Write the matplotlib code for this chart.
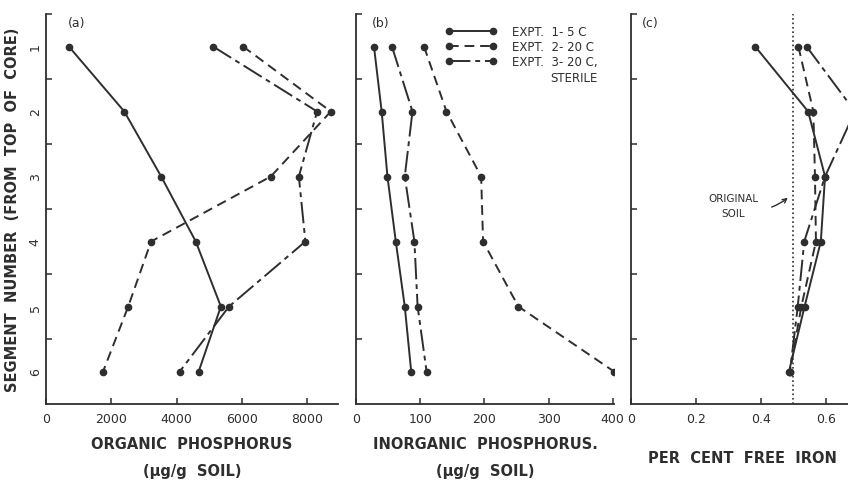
import matplotlib
matplotlib.use("Agg")
import matplotlib.pyplot as plt

segments = [1, 2, 3, 4, 5, 6]

org_p_expt1 = [700, 2400, 3530, 4590, 5360, 4680]
org_p_expt2 = [6040, 8730, 6890, 3220, 2520, 1750]
org_p_expt3 = [5120, 8310, 7750, 7950, 5610, 4100]

inorg_p_expt1 = [28, 40, 49, 62, 76, 86]
inorg_p_expt2 = [106, 141, 195, 198, 253, 402]
inorg_p_expt3 = [56, 88, 76, 91, 96, 110]

iron_expt1 = [0.383, 0.546, 0.598, 0.585, 0.535, 0.487]
iron_expt2 = [0.516, 0.562, 0.567, 0.570, 0.525, 0.490]
iron_expt3 = [0.541, 0.690, 0.598, 0.534, 0.514, 0.490]

legend_labels = ['EXPT.  1- 5 C', 'EXPT.  2- 20 C', 'EXPT.  3- 20 C,']

ink = '#2e2e2e'
W, H = 848, 481

plt.rcParams['font.family'] = 'DejaVu Sans'
plt.rcParams['text.color'] = ink
plt.rcParams['axes.labelcolor'] = ink
plt.rcParams['xtick.color'] = ink
plt.rcParams['ytick.color'] = ink

fig = plt.figure(figsize=(8.48, 4.81), dpi=100)
fig.patch.set_facecolor('white')


def make_ax(left_px, right_px, xmax):
    ax = fig.add_axes([left_px / W, 1 - 405 / H, (right_px - left_px) / W, 390 / H])
    ax.set_xlim(0, xmax)
    ax.set_ylim(6.5, 0.5)
    for s in ['top', 'right']:
        ax.spines[s].set_visible(False)
    for s in ['left', 'bottom']:
        ax.spines[s].set_color(ink)
        ax.spines[s].set_linewidth(1.3)
    ax.set_yticks(segments)
    ax.set_yticks([0.5, 1.5, 2.5, 3.5, 4.5, 5.5], minor=True)
    ax.tick_params(axis='y', which='major', length=0, pad=3, labelsize=9)
    ax.tick_params(axis='y', which='minor', direction='in', length=4, width=1.1)
    ax.tick_params(axis='x', which='major', direction='in', length=4, width=1.1,
                   pad=6, labelsize=9)
    return ax


dash_style = (0, (5, 3))
dashdot_style = (0, (11, 2.5, 2.5, 2.5))


def draw_series(ax, e1, e2, e3):
    kw = dict(color=ink, marker='o', markersize=4.5, linewidth=1.4)
    ax.plot(e1, segments, linestyle='-', label=legend_labels[0], **kw)
    ax.plot(e2, segments, linestyle=dash_style, label=legend_labels[1], **kw)
    ax.plot(e3, segments, linestyle=dashdot_style, label=legend_labels[2], **kw)


# (a) organic phosphorus
ax_a = make_ax(46, 338, 8950)
draw_series(ax_a, org_p_expt1, org_p_expt2, org_p_expt3)
ax_a.set_xticks([0, 2000, 4000, 6000, 8000])
ax_a.set_yticklabels([str(s) for s in segments], rotation=90, va='center')
ax_a.set_xlabel('ORGANIC  PHOSPHORUS\n(\u00b5g/g  SOIL)', fontsize=10.5,
                fontweight='bold', linespacing=2.0, labelpad=8)
ax_a.set_ylabel('SEGMENT  NUMBER  (FROM  TOP  OF  CORE)', fontsize=10.5,
                fontweight='bold', labelpad=6)
ax_a.text(0.075, 0.995, '(a)', transform=ax_a.transAxes, va='top', fontsize=9)

# (b) inorganic phosphorus
ax_b = make_ax(356, 614, 402)
draw_series(ax_b, inorg_p_expt1, inorg_p_expt2, inorg_p_expt3)
ax_b.set_xticks([0, 100, 200, 300, 400])
ax_b.set_yticklabels([])
ax_b.set_xlabel('INORGANIC  PHOSPHORUS.\n(\u00b5g/g  SOIL)', fontsize=10.5,
                fontweight='bold', linespacing=2.0, labelpad=8)
ax_b.text(0.062, 0.995, '(b)', transform=ax_b.transAxes, va='top', fontsize=9)
leg = ax_b.legend(loc='upper left', bbox_to_anchor=(0.33, 0.983), frameon=False,
                  numpoints=2, handlelength=4.3, handletextpad=1.3,
                  labelspacing=0.17, fontsize=8.5, borderaxespad=0)
# second line of the third label, right-aligned under it (drawn after the legend)
ax_b.annotate('STERILE', xy=(1, 0), xycoords=leg.get_texts()[2],
              xytext=(0, -2), textcoords='offset points',
              ha='right', va='top', fontsize=8.5, zorder=6)

# (c) free iron
ax_c = make_ax(630.7, 630.7 + 0.8 * 325, 0.8)
draw_series(ax_c, iron_expt1, iron_expt2, iron_expt3)
ax_c.axvline(0.5, color=ink, linestyle=':', linewidth=1.2)
ax_c.set_xticks([0, 0.2, 0.4, 0.6])
ax_c.set_xticklabels(['0', '0.2', '0.4', '0.6'])
ax_c.set_yticklabels([])
ax_c.set_xlabel('PER  CENT  FREE  IRON', fontsize=10.5, fontweight='bold', labelpad=18)
ax_c.xaxis.label.set_x(0.428)
ax_c.text(0.043, 0.995, '(c)', transform=ax_c.transAxes, va='top', fontsize=9)
ax_c.annotate('ORIGINAL\nSOIL', xy=(0.49, 3.3), xytext=(0.315, 3.45),
              ha='center', va='center', fontsize=7.5, linespacing=1.6,
              arrowprops=dict(arrowstyle='->', color=ink, lw=1.0,
                              connectionstyle='arc3,rad=0.3',
                              shrinkA=8, shrinkB=2))

fig.canvas.draw()
fig.savefig('out.png', dpi=100, facecolor='white')
